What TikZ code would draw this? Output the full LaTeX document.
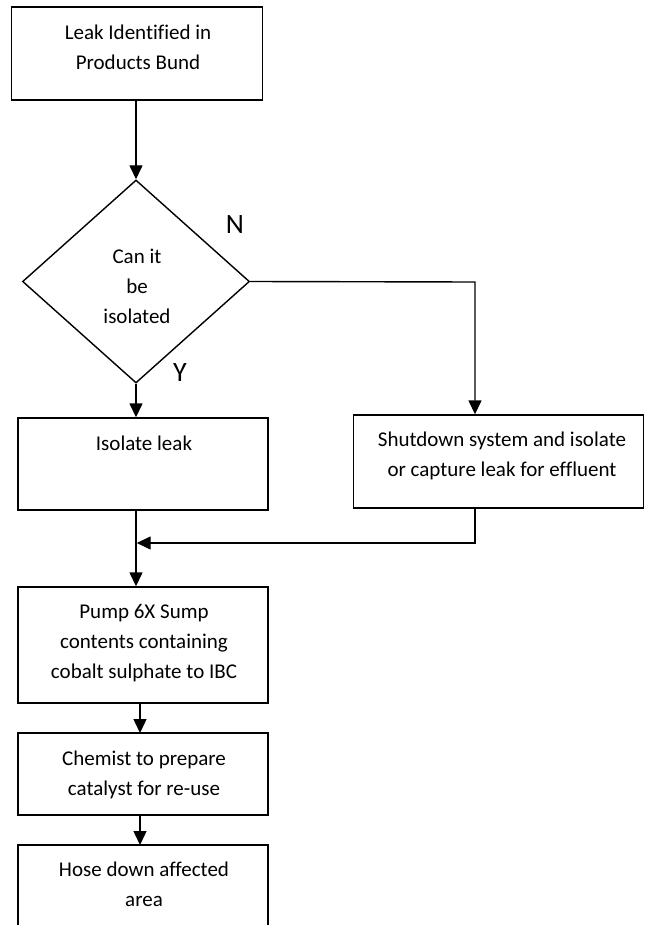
\documentclass[tikz,border=0pt]{standalone}
\usepackage{fontspec}
\setmainfont[Ligatures=NoCommon]{Carlito}
\usetikzlibrary{arrows.meta,shapes.geometric}
\begin{document}
\begin{tikzpicture}[x=1pt,y=-1pt,
  boxshape/.style={draw,line width=1.4pt,inner sep=0pt,rectangle},
  lbl/.style={font=\fontsize{21}{30}\selectfont,align=center,inner sep=0pt},
  yn/.style={font=\fontsize{28}{30}\selectfont,inner sep=0pt},
  conn/.style={line width=1.4pt,-{Triangle[length=14pt,width=13pt]}},
  plainline/.style={line width=1.4pt}]
\clip (0,0) rectangle (645,925);
\fill[white] (0,0) rectangle (645,925);
% boxes
\node[boxshape,minimum width=251pt,minimum height=93pt] (b1) at (137,53.5) {};
\node[lbl] (t1) at (138,47) {Leak Identified in\\Products Bund};
\node[draw,line width=1.4pt,diamond,inner sep=0pt,minimum width=227pt,minimum height=203pt] (d) at (136,281.5) {};
\node[lbl] (td) at (137,286) {Can it\\be\\isolated};
\node[yn] (n) at (235,225) {N};
\node[yn] (y) at (180,373) {Y};
\node[boxshape,minimum width=250pt,minimum height=92pt] (iso) at (143,464) {};
\node[lbl] (tiso) at (144,443) {Isolate leak};
\node[boxshape,minimum width=290pt,minimum height=93pt] (shut) at (498.5,461.5) {};
\node[lbl] (tshut) at (502,456) {Shutdown system and isolate\\or capture leak for effluent};
\node[boxshape,minimum width=250pt,minimum height=116pt] (pump) at (143,645) {};
\node[lbl] (tpump) at (144,643) {Pump 6X Sump\\contents containing\\cobalt sulphate to IBC};
\node[boxshape,minimum width=250pt,minimum height=82pt] (chem) at (143,774) {};
\node[lbl] (tchem) at (144,775) {Chemist to prepare\\catalyst for re-use};
\node[boxshape,minimum width=250pt,minimum height=170pt] (hose) at (143,930) {};
\node[lbl] (those) at (144,884) {Hose down affected\\area};
% connectors
\coordinate (nr) at (475,282);
\coordinate (mg) at (136,543);
\coordinate (sr) at (475,543);
\draw[conn] (b1.south -| d.north) -- (d.north);
\draw[conn] (d.east) -- (nr) -- (nr |- shut.north);
\draw[conn] (d.south) -- (d.south |- iso.north);
\draw[conn] (d.south |- iso.south) -- (d.south |- pump.north);
\draw[plainline] (sr |- shut.south) -- (sr) -- ([xshift=14pt]mg);
\draw[conn] ([xshift=15pt]mg) -- ([xshift=0.7pt]mg);
\draw[conn] (140,703) -- (140,733);
\draw[conn] (140,815) -- (140,845);
\end{tikzpicture}
\end{document}
